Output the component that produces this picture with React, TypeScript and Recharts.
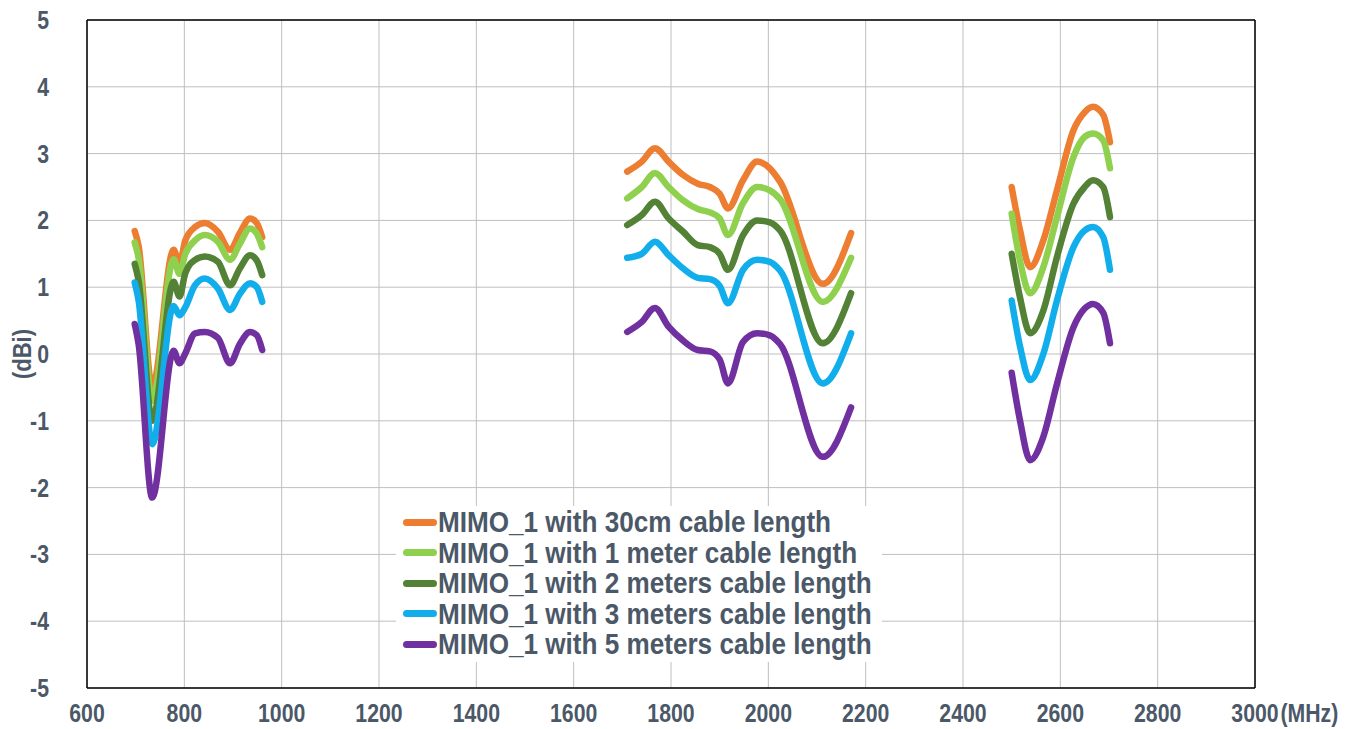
import React from "react";
import {
  LineChart,
  Line,
  XAxis,
  YAxis,
  CartesianGrid,
  ReferenceLine,
} from "recharts";

// frequencies (MHz) for the three bands, one after another
const FREQ_MHZ = [
  698, 706, 734, 778, 790, 802, 822, 842, 869, 894, 914, 935, 949, 960,
  1710, 1740, 1767, 1795, 1825, 1855, 1880, 1900, 1917, 1948, 1977, 2003, 2024, 2112, 2170,
  2500, 2517, 2538, 2565, 2593, 2627, 2650, 2667, 2688, 2702,
];

const CABLE_30CM = [
  1.84, 1.62, -0.5, 1.56, 1.36, 1.7, 1.9, 1.96, 1.83, 1.56, 1.81, 2.03, 1.96, 1.75,
  2.73, 2.88, 3.08, 2.88, 2.68, 2.55, 2.5, 2.4, 2.18, 2.6, 2.88, 2.78, 2.58, 1.05, 1.81,
  2.5, 1.86, 1.3, 1.7, 2.45, 3.35, 3.62, 3.7, 3.58, 3.17,
];
const CABLE_1M = [
  1.67, 1.44, -0.7, 1.42, 1.2, 1.5, 1.7, 1.78, 1.68, 1.41, 1.65, 1.88, 1.8, 1.6,
  2.33, 2.5, 2.71, 2.5, 2.3, 2.17, 2.12, 2.03, 1.78, 2.26, 2.5, 2.45, 2.32, 0.78, 1.44,
  2.1, 1.4, 0.91, 1.3, 2.05, 2.95, 3.25, 3.3, 3.2, 2.78,
];
const CABLE_2M = [
  1.35, 1.1, -1.0, 1.08, 0.86, 1.21, 1.41, 1.46, 1.38, 1.03, 1.28, 1.48, 1.4, 1.18,
  1.93, 2.08, 2.28, 2.03, 1.83, 1.63, 1.6, 1.5, 1.26, 1.78, 2.0, 1.97, 1.85, 0.16, 0.91,
  1.5, 0.85, 0.31, 0.65, 1.45, 2.25, 2.5, 2.6, 2.5, 2.05,
];
const CABLE_3M = [
  1.07, 0.8, -1.35, 0.72, 0.58, 0.7, 1.03, 1.13, 0.98, 0.66, 0.9, 1.06, 1.0, 0.78,
  1.44, 1.5, 1.68, 1.48, 1.28, 1.14, 1.12, 1.02, 0.76, 1.26, 1.41, 1.38, 1.25, -0.44, 0.31,
  0.8, 0.12, -0.39, 0.0, 0.8, 1.6, 1.85, 1.9, 1.75, 1.26,
];
const CABLE_5M = [
  0.45, 0.15, -2.15, 0.05, -0.14, 0.01, 0.31, 0.33, 0.24, -0.14, 0.15, 0.33, 0.28, 0.06,
  0.33, 0.48, 0.69, 0.41, 0.2, 0.06, 0.04, -0.08, -0.44, 0.18, 0.31, 0.28, 0.15, -1.54, -0.8,
  -0.28, -0.99, -1.59, -1.24, -0.45, 0.4, 0.68, 0.75, 0.62, 0.16,
];

const X_TICKS = [600, 800, 1000, 1200, 1400, 1600, 1800, 2000, 2200, 2400, 2600, 2800, 3000];
const Y_TICKS = [-5, -4, -3, -2, -1, 0, 1, 2, 3, 4, 5];

const SERIES = [
  { key: "c30cm", name: "MIMO_1 with 30cm cable length", values: CABLE_30CM, color: "#ED7D31" },
  { key: "c1m", name: "MIMO_1 with 1 meter cable length", values: CABLE_1M, color: "#8FD14F" },
  { key: "c2m", name: "MIMO_1 with 2 meters cable length", values: CABLE_2M, color: "#538135" },
  { key: "c3m", name: "MIMO_1 with 3 meters cable length", values: CABLE_3M, color: "#12AEEB" },
  { key: "c5m", name: "MIMO_1 with 5 meters cable length", values: CABLE_5M, color: "#7030A0" },
];

const TEXT_COLOR = "#4B5868";
const FONT = "'Liberation Sans', Arial, sans-serif";
// the original text is tall and narrow
const SQUEEZE = 0.85;

type Row = { freq: number; [key: string]: number };

// rows per frequency, plus an empty row between bands so the lines break
const data: Row[] = [];
FREQ_MHZ.forEach((f, i) => {
  const prev = FREQ_MHZ[i - 1];
  if (prev !== undefined && f - prev > 300) {
    data.push({ freq: (f + prev) / 2 });
  }
  const row: Row = { freq: f };
  SERIES.forEach((s) => {
    row[s.key] = s.values[i];
  });
  data.push(row);
});

const XTick = (props: { x?: number; y?: number; payload?: { value: number } }) => {
  const { x = 0, y = 0, payload } = props;
  return (
    <g transform={`translate(${x},${y + 26}) scale(${SQUEEZE},1)`}>
      <text
        x={0}
        y={0}
        textAnchor="middle"
        fill={TEXT_COLOR}
        fontSize={25}
        fontWeight="bold"
        fontFamily={FONT}
      >
        {payload?.value}
      </text>
      {payload?.value === 3000 && (
        <text
          x={30}
          y={0}
          textAnchor="start"
          fill={TEXT_COLOR}
          fontSize={25}
          fontWeight="bold"
          fontFamily={FONT}
        >
          (MHz)
        </text>
      )}
    </g>
  );
};

const YTick = (props: { x?: number; y?: number; payload?: { value: number } }) => {
  const { y = 0, payload } = props;
  return (
    <g transform={`translate(49,${y}) scale(${SQUEEZE},1)`}>
      <text
        x={0}
        y={0}
        dy="0.36em"
        textAnchor="end"
        fill={TEXT_COLOR}
        fontSize={25}
        fontWeight="bold"
        fontFamily={FONT}
      >
        {payload?.value}
      </text>
    </g>
  );
};

export default function App() {
  return (
    <div style={{ position: "absolute", left: 0, top: 0, width: 1364, height: 729, background: "#fff" }}>
      <LineChart
        width={1364}
        height={729}
        data={data}
        margin={{ top: 20, right: 109, bottom: 0, left: 0 }}
      >
        <CartesianGrid stroke="#BFBFBF" strokeWidth={1} />
        <XAxis
          dataKey="freq"
          type="number"
          domain={[600, 3000]}
          ticks={X_TICKS}
          interval={0}
          height={41}
          tickLine={false}
          axisLine={{ stroke: "#000", strokeWidth: 1.5 }}
          tick={<XTick />}
        />
        <YAxis
          type="number"
          domain={[-5, 5]}
          ticks={Y_TICKS}
          interval={0}
          width={87}
          tickLine={false}
          axisLine={{ stroke: "#000", strokeWidth: 1.5 }}
          tick={<YTick />}
        />
        <ReferenceLine y={5} stroke="#000" strokeWidth={1.5} />
        <ReferenceLine x={3000} stroke="#000" strokeWidth={1.5} />
        {SERIES.map((s) => (
          <Line
            key={s.key}
            type="monotone"
            dataKey={s.key}
            name={s.name}
            stroke={s.color}
            strokeWidth={6.5}
            strokeLinecap="round"
            strokeLinejoin="round"
            dot={false}
            activeDot={false}
            isAnimationActive={false}
          />
        ))}
      </LineChart>

      <div
        style={{
          position: "absolute",
          left: 22,
          top: 354,
          transform: `translate(-50%, -50%) rotate(-90deg) scaleX(${SQUEEZE + 0.03})`,
          color: TEXT_COLOR,
          fontFamily: FONT,
          fontWeight: "bold",
          fontSize: 25,
          lineHeight: "25px",
          whiteSpace: "nowrap",
        }}
      >
        (dBi)
      </div>

      <div
        style={{
          position: "absolute",
          left: 396,
          top: 506,
          width: 486,
          height: 156,
          background: "#fff",
          fontFamily: FONT,
          fontWeight: "bold",
          color: TEXT_COLOR,
          paddingTop: 1,
          boxSizing: "border-box",
        }}
      >
        {SERIES.map((s) => (
          <div key={s.key} style={{ display: "flex", alignItems: "center", height: 30.5, whiteSpace: "nowrap" }}>
            <span
              style={{
                display: "inline-block",
                width: 34,
                height: 7,
                borderRadius: 3.5,
                background: s.color,
                marginLeft: 7,
                marginRight: 1,
                flexShrink: 0,
              }}
            />
            <span
              style={{
                display: "inline-block",
                fontSize: 29,
                lineHeight: "30px",
                transform: "scaleX(0.9)",
                transformOrigin: "left center",
              }}
            >
              {s.name}
            </span>
          </div>
        ))}
      </div>
    </div>
  );
}
